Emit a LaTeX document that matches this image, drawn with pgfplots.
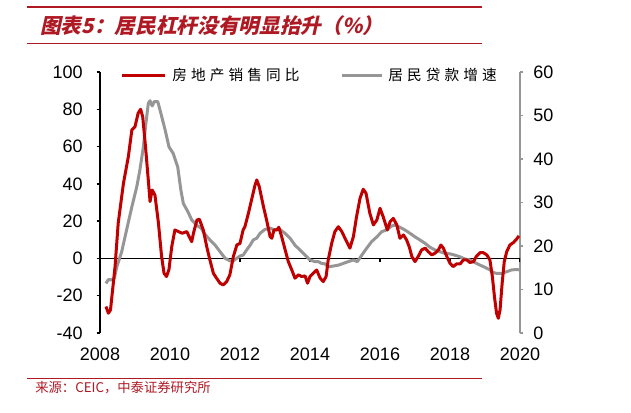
\documentclass[border=0pt]{standalone}
\usepackage{fontspec}
\usepackage{pgfplots}
\pgfplotsset{compat=1.18}
\setmainfont{Liberation Sans}
\newfontfamily\cjk{Noto Sans CJK SC}
\newfontfamily\cjkleg[LetterSpace=28]{Noto Sans CJK SC}
\newfontfamily\cjktitle[FakeSlant=0.22]{Noto Sans CJK SC}
\definecolor{myred}{RGB}{192,0,0}
\definecolor{mygray}{RGB}{150,150,150}
\definecolor{titlered}{RGB}{175,25,35}

\begin{document}
\begin{tikzpicture}
\begin{scope}[x=0.75pt,y=0.75pt]
\useasboundingbox (0,0) rectangle (631,412);
% header and footer
\draw[titlered, line width=1.9pt] (27,405) -- (482,405);
\draw[titlered, line width=0.75pt] (27,369) -- (482,369);
\node[anchor=west, text=titlered, inner sep=0pt, font=\cjktitle\bfseries\fontsize{15.5}{18}\selectfont] at (40,386) {图表5：居民杠杆没有明显抬升（\%）};
\draw[titlered, line width=0.75pt] (27,34) -- (482,34);
\node[anchor=west, text=titlered, inner sep=0pt, font=\cjk\fontsize{10}{12}\selectfont] at (35,24) {来源：CEIC，中泰证券研究所};
% legend
\draw[myred, line width=2.25pt] (122,337) -- (165,337);
\node[anchor=west, inner sep=0pt, font=\cjkleg\fontsize{11}{13}\selectfont] at (172,337) {房地产销售同比};
\draw[mygray, line width=2.25pt] (342,337) -- (382,337);
\node[anchor=west, inner sep=0pt, font=\cjkleg\fontsize{11}{13}\selectfont] at (388,337) {居民贷款增速};
\end{scope}

% right axis (gray series)
\begin{axis}[
  at={(75pt,59.25pt)}, anchor=south west, scale only axis,
  width=315pt, height=195.75pt,
  xmin=2008, xmax=2020, ymin=0, ymax=60,
  axis y line*=right, axis x line=none,
  ytick={0,10,...,60},
  tick align=outside, major tick length=2.5pt,
  y axis line style={mygray, line width=1.1pt},
  y tick style={mygray, line width=1pt},
  tick label style={font=\fontsize{13.5}{15}\selectfont, /pgf/number format/assume math mode=true},
  yticklabel style={xshift=4pt},
]
\draw[black, line width=1.1pt] (axis cs:2008,17.142857) -- (axis cs:2020,17.142857);
\pgfplotsinvokeforeach{2010,2012,2014,2016,2018,2020}{\draw[black,line width=1pt] (axis cs:#1,17.142857) -- ([yshift=-3pt]axis cs:#1,17.142857);}
\addplot[mygray, line width=2.25pt, line join=round] table {
2008.17 11.4
2008.24 12.3
2008.33 12.2
2008.41 12.6
2008.48 15.2
2008.62 18.7
2008.76 23.7
2008.91 29.0
2009.05 33.6
2009.14 37.5
2009.24 42.8
2009.30 47.4
2009.38 52.8
2009.43 53.4
2009.49 52.2
2009.55 53.2
2009.65 53.2
2009.74 50.5
2009.86 46.7
2009.97 42.8
2010.09 41.3
2010.22 38.2
2010.31 32.9
2010.38 29.8
2010.51 27.9
2010.62 26.0
2010.76 24.8
2010.89 24.1
2011.00 22.7
2011.14 21.4
2011.29 20.2
2011.43 18.7
2011.57 17.2
2011.71 16.6
2011.81 16.6
2011.91 17.2
2012.00 17.7
2012.09 17.9
2012.19 19.1
2012.29 20.2
2012.38 21.4
2012.48 21.8
2012.57 22.9
2012.71 23.8
2012.86 24.1
2013.00 23.7
2013.14 23.8
2013.29 22.9
2013.43 21.8
2013.57 20.2
2013.71 19.1
2013.86 17.9
2014.00 16.8
2014.14 16.4
2014.24 16.4
2014.33 16.0
2014.43 15.9
2014.52 15.2
2014.67 15.4
2014.81 15.6
2014.95 16.0
2015.09 16.4
2015.24 16.8
2015.35 16.4
2015.48 17.9
2015.62 19.5
2015.76 21.0
2015.91 22.1
2016.05 23.3
2016.19 23.7
2016.33 24.6
2016.43 24.8
2016.57 24.3
2016.71 23.7
2016.86 22.9
2017.00 22.1
2017.14 21.4
2017.29 20.6
2017.43 19.7
2017.57 19.1
2017.71 18.7
2017.86 18.3
2018.00 18.2
2018.14 17.9
2018.29 17.5
2018.43 17.0
2018.57 16.8
2018.71 16.2
2018.86 15.6
2019.00 15.1
2019.14 14.5
2019.24 13.9
2019.33 13.7
2019.48 13.7
2019.62 14.1
2019.76 14.5
2019.90 14.6
2019.99 14.5
};
\end{axis}

% left axis (red series)
\begin{axis}[
  at={(75pt,59.25pt)}, anchor=south west, scale only axis,
  width=315pt, height=195.75pt,
  xmin=2008, xmax=2020, ymin=-40, ymax=100,
  axis y line*=left, axis x line*=bottom,
  x axis line style={draw=none},
  xtick={2008,2010,...,2020}, x tick style={draw=none},
  ytick={-40,-20,...,100},
  tick align=outside, major tick length=2.5pt,
  y axis line style={black, line width=1.1pt},
  y tick style={black, line width=1pt},
  tick label style={font=\fontsize{13.5}{15}\selectfont, /pgf/number format/assume math mode=true},
  x tick label style={/pgf/number format/1000 sep={}, yshift=-5.5pt},
  yticklabel style={xshift=-7pt},
]
\addplot[myred, line width=2.25pt, line join=round] table {
2008.17 -25.8
2008.24 -29.4
2008.30 -27.6
2008.43 -4.4
2008.52 18.9
2008.67 40.3
2008.81 54.6
2008.91 68.9
2009.00 70.7
2009.09 77.9
2009.16 80.0
2009.22 76.0
2009.30 60.0
2009.38 42.0
2009.43 30.5
2009.49 36.7
2009.57 34.0
2009.67 18.9
2009.76 1.0
2009.83 -8.0
2009.90 -9.7
2009.97 -6.0
2010.05 6.3
2010.14 15.3
2010.24 14.4
2010.35 13.5
2010.48 14.4
2010.57 10.8
2010.62 9.0
2010.67 13.5
2010.77 20.6
2010.84 21.0
2010.95 15.3
2011.05 6.3
2011.14 -0.8
2011.24 -8.0
2011.33 -10.6
2011.43 -13.3
2011.52 -14.2
2011.62 -12.4
2011.71 -8.8
2011.81 1.0
2011.91 7.2
2012.00 8.1
2012.09 15.3
2012.14 17.0
2012.24 24.2
2012.33 31.4
2012.43 39.4
2012.48 42.1
2012.55 38.5
2012.67 27.8
2012.76 20.6
2012.86 11.7
2012.91 10.8
2012.97 15.3
2013.05 15.3
2013.11 16.7
2013.19 11.7
2013.29 4.6
2013.38 -1.7
2013.48 -6.2
2013.57 -10.6
2013.67 -8.8
2013.76 -9.7
2013.86 -9.4
2013.93 -13.3
2014.00 -9.7
2014.09 -8.0
2014.19 -6.2
2014.29 -10.6
2014.38 -12.4
2014.46 -9.7
2014.52 -0.8
2014.62 8.1
2014.71 14.4
2014.81 17.0
2014.91 14.4
2015.00 10.8
2015.14 5.5
2015.24 11.7
2015.33 22.4
2015.43 32.3
2015.52 37.1
2015.60 35.0
2015.71 24.2
2015.81 18.0
2015.91 20.6
2016.00 26.9
2016.09 22.4
2016.21 15.3
2016.29 19.7
2016.38 21.5
2016.48 18.0
2016.57 10.8
2016.67 12.6
2016.76 9.9
2016.84 6.0
2016.91 1.0
2017.00 -1.7
2017.09 1.0
2017.19 4.6
2017.29 5.5
2017.38 3.6
2017.48 1.9
2017.57 2.8
2017.67 4.6
2017.74 7.2
2017.81 5.5
2017.91 1.0
2018.00 -2.6
2018.09 -4.4
2018.19 -2.9
2018.29 -2.9
2018.38 -0.8
2018.48 -0.8
2018.57 -2.2
2018.67 -1.7
2018.76 1.3
2018.86 3.1
2018.95 3.1
2019.05 1.9
2019.14 -0.8
2019.21 -9.7
2019.27 -20.5
2019.33 -29.4
2019.38 -32.1
2019.43 -27.6
2019.49 -13.3
2019.55 -1.7
2019.62 3.6
2019.71 7.2
2019.81 8.5
2019.90 10.3
2019.97 12.1
};
\end{axis}
\end{tikzpicture}
\end{document}
